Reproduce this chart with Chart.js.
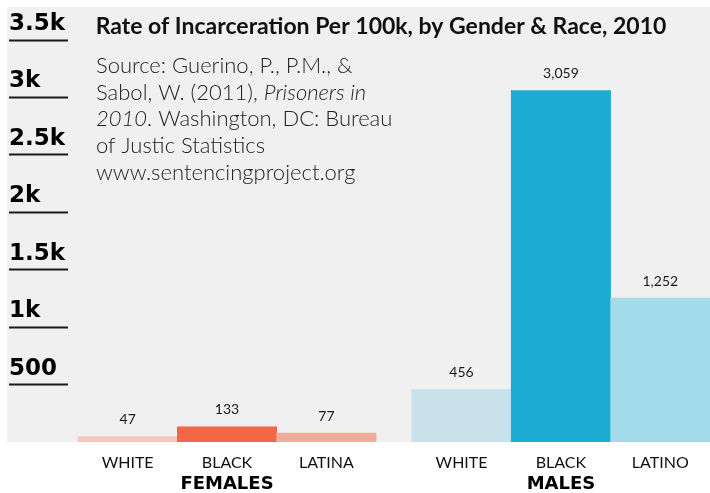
<!DOCTYPE html>
<html>
<head>
<meta charset="utf-8">
<script src="https://cdn.jsdelivr.net/npm/chart.js@4.4.1/dist/chart.umd.min.js"></script>
<style>
  html, body { margin: 0; padding: 0; background: #fff; }
  #wrap { width: 710px; height: 493px; }
</style>
</head>
<body>
<div id="wrap"><canvas id="ratechart"></canvas></div>
<script>
// data
var groups = ['FEMALES', 'MALES'];
var femaleLabels = ['WHITE', 'BLACK', 'LATINA'];
var maleLabels = ['WHITE', 'BLACK', 'LATINO'];
var femaleRates = [47, 133, 77];
var maleRates = [456, 3059, 1252];
var yTicks = [500, 1000, 1500, 2000, 2500, 3000, 3500];
var yTickLabels = ['500', '1k', '1.5k', '2k', '2.5k', '3k', '3.5k'];

var femaleColors = ['#f5c9bf', '#f26745', '#f0ab9b'];
var maleColors = ['#c8e1ea', '#1badd1', '#a3dbea'];

var groupGap = 0.36; // space between the two groups, in bar widths

var femalePos = femaleRates.map(function(v, i) { return i + 0.5; });
var malePos = maleRates.map(function(v, i) { return femaleRates.length + groupGap + i + 0.5; });
var allPos = femalePos.concat(malePos);
var allLabels = femaleLabels.concat(maleLabels);
var groupPos = [femalePos[1], malePos[1]];
var xMin = -0.1, xMax = femaleRates.length + groupGap + maleRates.length;

var bgPlugin = {
  id: 'grayBg',
  beforeDraw: function(chart) {
    var c = chart.ctx, a = chart.chartArea;
    c.save();
    c.fillStyle = '#f0f0f0';
    c.fillRect(7, 7, chart.width - 7, a.bottom - 7);
    c.restore();
  }
};

var valuePlugin = {
  id: 'values',
  afterDatasetsDraw: function(chart) {
    var c = chart.ctx;
    c.save();
    c.font = '14px Lato';
    c.fillStyle = '#1a1a1a';
    c.textAlign = 'center';
    c.textBaseline = 'middle';
    chart.data.datasets.forEach(function(ds, di) {
      chart.getDatasetMeta(di).data.forEach(function(bar, i) {
        c.fillText(ds.data[i].y.toLocaleString('en-US'), bar.x, bar.y - 17);
      });
    });
    c.restore();
  }
};

var textPlugin = {
  id: 'texts',
  afterDraw: function(chart) {
    var c = chart.ctx;
    c.save();
    c.fillStyle = '#111';
    c.textBaseline = 'alphabetic';
    c.textAlign = 'center';
    c.font = 'bold 23px Lato';
    c.fillText('Rate of Incarceration Per 100k, by Gender & Race, 2010', 381, 34);

    c.textAlign = 'left';
    c.fillStyle = '#222';
    var normal = '300 22px Lato', italic = 'italic 300 22px Lato';
    var lines = [
      [['Source: Guerino, P., P.M., &', normal]],
      [['Sabol, W. (2011), ', normal], ['Prisoners in', italic]],
      [['2010', italic], ['. Washington, DC: Bureau', normal]],
      [['of Justic Statistics', normal]],
      [['www.sentencingproject.org', normal]]
    ];
    lines.forEach(function(parts, li) {
      var x = 96, y = 73 + li * 26.7;
      parts.forEach(function(p) {
        c.font = p[1];
        c.fillText(p[0], x, y);
        x += c.measureText(p[0]).width;
      });
    });
    c.restore();
  }
};

var ctx = document.getElementById('ratechart').getContext('2d');
var ratechart = new Chart(ctx, {
  type: 'bar',
  data: {
    datasets: [{
      label: 'Females',
      data: femaleRates.map(function(v, i) { return { x: femalePos[i], y: v }; }),
      backgroundColor: femaleColors
    }, {
      label: 'Males',
      data: maleRates.map(function(v, i) { return { x: malePos[i], y: v }; }),
      backgroundColor: maleColors
    }]
  },
  options: {
    responsive: true,
    maintainAspectRatio: false,
    animation: false,
    grouped: false,
    barPercentage: 1,
    categoryPercentage: 1,
    layout: { padding: { left: 9, top: 40, right: 0, bottom: 0 } },
    plugins: {
      legend: { display: false },
      tooltip: { enabled: false },
      title: { display: false }
    },
    scales: {
      x: {
        type: 'linear',
        offset: false,
        min: xMin,
        max: xMax,
        weight: 0,
        grid: { display: false, drawTicks: false },
        border: { display: false },
        afterBuildTicks: function(scale) {
          scale.ticks = allPos.map(function(v) { return { value: v }; });
        },
        afterFit: function(scale) { scale.height = 28; },
        ticks: {
          padding: 11,
          color: '#111',
          font: { family: 'Lato', size: 16 },
          callback: function(value, index) { return allLabels[index]; }
        }
      },
      x2: {
        type: 'linear',
        position: 'bottom',
        offset: false,
        min: xMin,
        max: xMax,
        weight: 1,
        grid: { display: false, drawTicks: false },
        border: { display: false },
        afterBuildTicks: function(scale) {
          scale.ticks = groupPos.map(function(v) { return { value: v }; });
        },
        afterFit: function(scale) { scale.height = 23; },
        ticks: {
          padding: 5,
          color: '#000',
          font: { family: 'DejaVu Sans', size: 18, weight: 'bold', lineHeight: 1 },
          callback: function(value, index) { return groups[index]; }
        }
      },
      y: {
        min: 0,
        max: 3500,
        afterBuildTicks: function(scale) {
          scale.ticks = yTicks.map(function(v) { return { value: v }; });
        },
        afterFit: function(scale) { scale.width = 59; },
        grid: { drawOnChartArea: false, tickLength: 59, tickWidth: 2, tickColor: '#1a1a1a' },
        border: { display: false },
        ticks: {
          crossAlign: 'far',
          labelOffset: -16,
          padding: 0,
          color: '#000',
          font: { family: 'DejaVu Sans', size: 23, weight: 'bold' },
          callback: function(value) { return yTickLabels[yTicks.indexOf(value)]; }
        }
      }
    }
  },
  plugins: [bgPlugin, valuePlugin, textPlugin]
});
</script>
</body>
</html>
